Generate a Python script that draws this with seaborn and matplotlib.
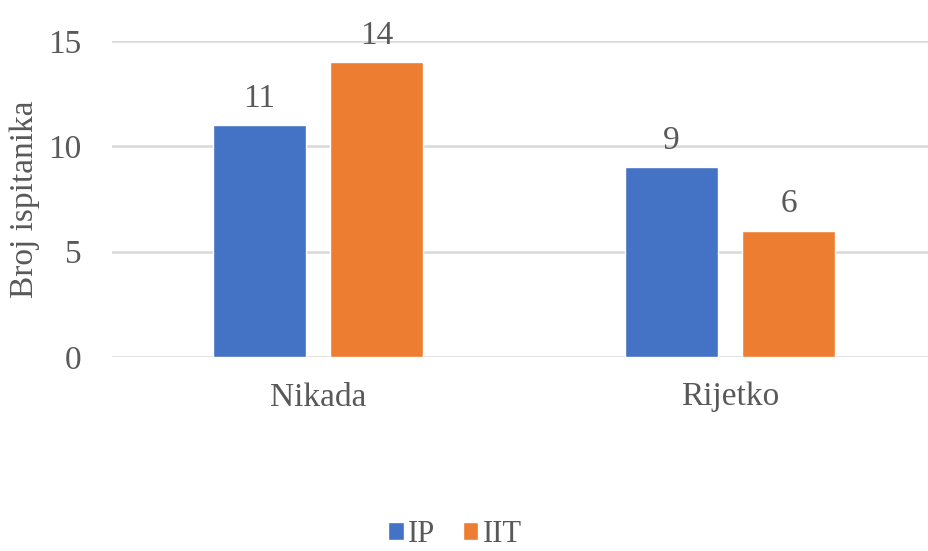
import matplotlib
matplotlib.use("Agg")
import matplotlib.pyplot as plt
import seaborn as sns
import pandas as pd
from matplotlib.patches import Patch

categories = ["Nikada", "Rijetko"]
series_names = ["IP", "IIT"]
ip_values = [11, 9]
iit_values = [14, 6]
colors = ["#4472C4", "#ED7D31"]

df = pd.DataFrame({
    "kategorija": categories * 2,
    "grupa": [series_names[0]] * 2 + [series_names[1]] * 2,
    "broj": ip_values + iit_values,
})

sns.set_style("white")
plt.rcParams["font.family"] = ["Liberation Serif", "DejaVu Serif"]
text_color = "#595959"

fig = plt.figure(figsize=(9.29, 5.51), dpi=100)
ax = fig.add_axes([112 / 929, 194 / 551, 817 / 929, 316 / 551])

sns.barplot(data=df, x="kategorija", y="broj", hue="grupa", palette=colors,
            width=0.57, gap=0.21, saturation=1, ax=ax, legend=False, zorder=3)

ax.set_ylim(0, 15)
ax.set_xlim(-0.5, 1.483)
ax.set_yticks([0, 5, 10, 15])
ax.yaxis.grid(True, color="#D9D9D9", linewidth=1.8, zorder=0)
ax.set_axisbelow(True)
for s in ax.spines.values():
    s.set_visible(False)
ax.tick_params(axis="both", length=0, labelsize=24, labelcolor=text_color)
ax.tick_params(axis="y", pad=22)
ax.tick_params(axis="x", pad=18)
ax.set_xlabel("")
ax.set_ylabel("Broj ispitanika", fontsize=24, color=text_color, labelpad=6)

for cont in ax.containers:
    ax.bar_label(cont, fontsize=24, color=text_color, padding=8, clip_on=False)

handles = [Patch(facecolor=c, label=n) for c, n in zip(colors, series_names)]
fig.legend(handles=handles, loc="center", bbox_to_anchor=(0.49, 0.03), ncol=2,
           frameon=False, fontsize=22, labelcolor=text_color, handlelength=0.5,
           handleheight=0.5, handletextpad=0.15, columnspacing=0.9,
           borderpad=0.1)

fig.savefig("out.png", dpi=100)
